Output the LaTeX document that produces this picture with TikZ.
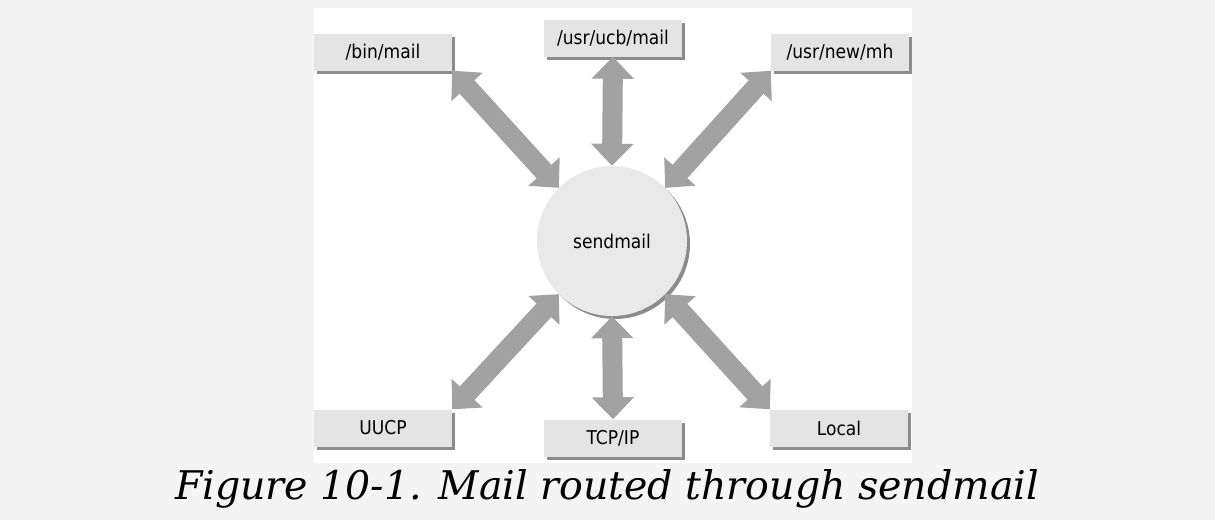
\documentclass[tikz,border=0pt]{standalone}
\usepackage{fontspec}
\setmainfont{DejaVu Serif}
\newfontfamily\boxfont{DejaVu Sans Condensed}
\usetikzlibrary{arrows.meta,shadows}
\definecolor{pagegray}{HTML}{F4F4F4}
\definecolor{boxgray}{HTML}{E4E4E4}
\definecolor{circgray}{HTML}{E9E9E9}
\definecolor{shadegray}{HTML}{8C8C8C}
\definecolor{arrowgray}{HTML}{A2A2A2}

\begin{document}
\begin{tikzpicture}[x=1pt, y=-1pt, font=\boxfont\fontsize{19}{21}\selectfont]
\tikzset{
  prog/.style={rectangle, fill=boxgray, minimum width=138pt, minimum height=37pt, inner sep=0pt,
    drop shadow={shadow xshift=3pt, shadow yshift=-3pt, fill=shadegray, opacity=1}},
  hub/.style={circle, fill=circgray, minimum size=150pt, inner sep=0pt,
    drop shadow={shadow xshift=3pt, shadow yshift=-3pt, fill=shadegray, opacity=1}},
  link/.style={{Triangle[width=41pt,length=22pt]}-{Triangle[width=41pt,length=22pt]}, line width=20pt, draw=arrowgray},
}
% page and figure area
\fill[pagegray] (0,0) rectangle (1215,520);
\fill[white] (314,8) rectangle (912,463);
\useasboundingbox (0,0) rectangle (1215,520);

\node[hub] (sendmail) at (612,241) {sendmail};
\node[prog] (binmail) at (383,52) {/bin/mail};
\node[prog] (ucbmail) at (613,38) {/usr/ucb/mail};
\node[prog] (newmh) at (840,52) {/usr/new/mh};
\node[prog] (uucp) at (383,428) {UUCP};
\node[prog] (tcpip) at (613,438) {TCP/IP};
\node[prog] (local) at (839,428) {Local};

\draw[link] (binmail.south east) -- (sendmail.135);
\draw[link] (ucbmail.south) -- (sendmail.north);
\draw[link] (newmh.south west) -- (sendmail.45);
\draw[link] (uucp.north east) -- (sendmail.225);
\draw[link] (tcpip.north) -- (sendmail.south);
\draw[link] (local.north west) -- (sendmail.315);

\node[font=\rmfamily\itshape\fontsize{39.5}{42}\selectfont] (caption) at (607,489) {Figure 10-1. Mail routed through sendmail};
\end{tikzpicture}
\end{document}
